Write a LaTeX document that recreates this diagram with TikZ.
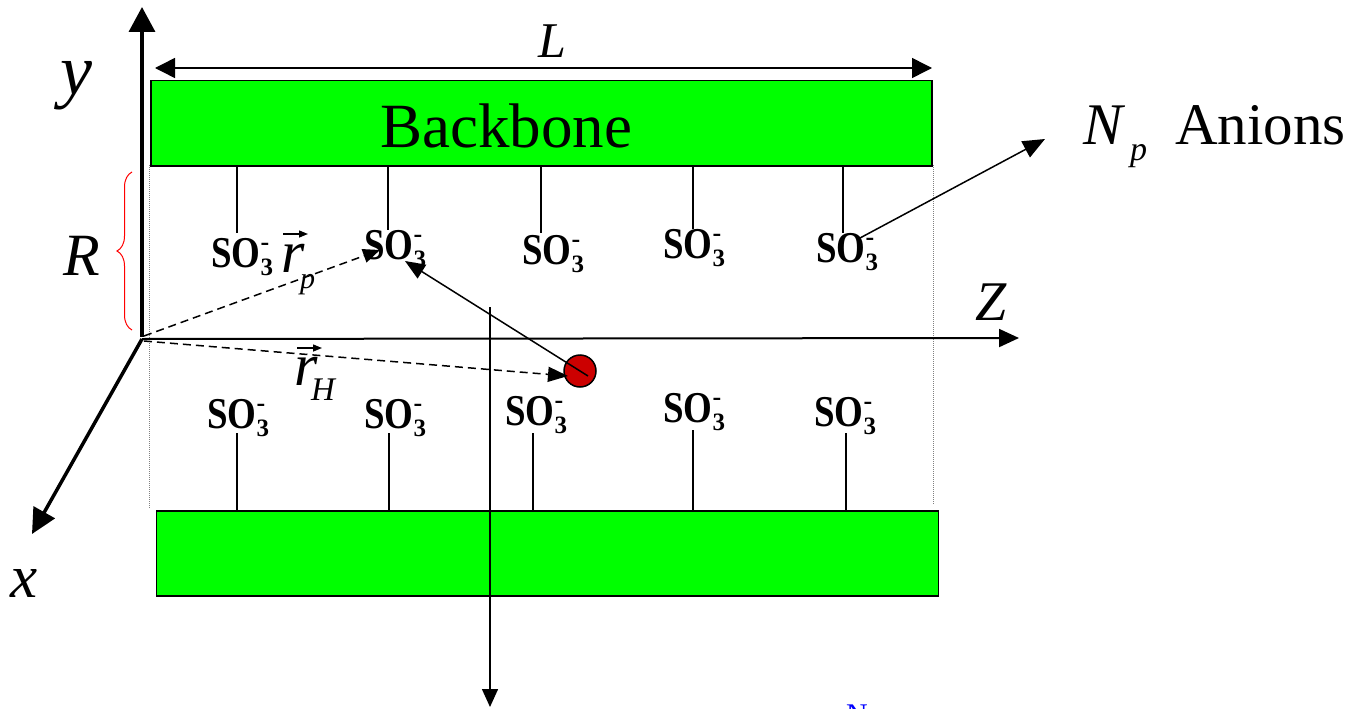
\documentclass[tikz,border=0pt]{standalone}
\usepackage{graphicx}
\usepackage{fontspec}
\setmainfont{Liberation Serif}
\usetikzlibrary{arrows.meta,decorations.pathreplacing,calc}
\definecolor{bbgreen}{HTML}{00FF00}
\definecolor{hred}{HTML}{CC0000}
\definecolor{nblue}{HTML}{0000FF}
\newcommand{\myfs}[1]{\fontsize{#1}{#1}\selectfont}
\newcommand{\sothree}{{\bfseries\scalebox{0.84}[1]{\myfs{44}\bfseries SO}\rlap{\raisebox{17pt}{\myfs{26}\bfseries -}}\raisebox{-8pt}{\myfs{25}\bfseries 3}}}
\begin{document}
\begin{tikzpicture}[x=1pt,y=-1pt,
  greenbox/.style={draw=black, line width=1.5pt, fill=bbgreen, inner sep=0pt, anchor=north west},
  lab/.style={inner sep=0pt, anchor=base west},
  so/.style={inner sep=0pt, anchor=base west},
  stem/.style={line width=1.2pt},
  axis/.style={line width=3.5pt},
  conn/.style={line width=1.5pt},
  dconn/.style={line width=1.5pt, dash pattern=on 8pt off 5pt},
  vecacc/.style={line width=1.4pt, -{Triangle[length=9pt,width=7pt]}},
  guide/.style={gray, line width=0.8pt, dash pattern=on 1pt off 1pt}]
\useasboundingbox (0,0) rectangle (1352,709);

% backbones
\node[greenbox, minimum width=781pt, minimum height=85pt] (top) at (150,80) {};
\node[greenbox, minimum width=782pt, minimum height=85pt] (bot) at (155.5,510) {};
\node[lab, font=\myfs{63}] (bb) at (380,147) {Backbone};

% guides
\draw[guide] (149,165) -- (149,508);
\draw[guide] (933,165) -- (933,505);

% length L
\coordinate (La) at (155,68);
\coordinate (Lb) at (932,68);
\draw[conn, {Triangle[length=20pt,width=20pt]}-{Triangle[length=20pt,width=20pt]}] (La) -- (Lb);
\node[lab, font=\myfs{50}\itshape] (L) at (538,58) {L};

% axes
\coordinate (O) at (142,339);
\coordinate (ytip) at (142,7);
\coordinate (xtip) at (32,534);
\coordinate (ztip) at (1019,338);
\draw[axis, -{Triangle[length=25pt,width=26pt]}] ([yshift=2pt]O) -- (ytip);
\draw[axis, -{Triangle[length=25pt,width=24pt]}] (O) -- (xtip);
\draw[line width=2pt, -{Triangle[length=20pt,width=18pt]}] (O) -- (ztip);
\node[lab, font=\myfs{72}\itshape] (ylab) at (60,94) {y};
\node[lab, font=\myfs{61}\itshape] (xlab) at (10,597) {x};
\node[lab, font=\myfs{56}\itshape] (zlab) at (975,320) {Z};

% R brace
\draw[red, line width=1pt, decorate, decoration={brace, amplitude=15pt}] (132,330) -- (132,172);
\node[lab, font=\myfs{60}\itshape] (R) at (63,275) {R};

% top SO3 groups
\node[so] (t1) at (211,267) {\sothree};
\node[so] (t2) at (364,259) {\sothree};
\node[so] (t3) at (522,264) {\sothree};
\node[so] (t4) at (663,258) {\sothree};
\node[so] (t5) at (816,262) {\sothree};
\coordinate (ts1) at (237,233);
\coordinate (ts2) at (388,230);
\coordinate (ts3) at (541,233);
\coordinate (ts4) at (693,229);
\coordinate (ts5) at (843,233);
\foreach \i in {1,...,5} {\draw[stem] (ts\i |- top.south) -- (ts\i);}

% bottom SO3 groups
\node[so] (b1) at (207,428) {\sothree};
\node[so] (b2) at (364,428) {\sothree};
\node[so] (b3) at (505,425) {\sothree};
\node[so] (b4) at (663,422) {\sothree};
\node[so] (b5) at (814,426) {\sothree};
\coordinate (bs1) at (237,433);
\coordinate (bs2) at (389,433);
\coordinate (bs3) at (533,433);
\coordinate (bs4) at (693,430);
\coordinate (bs5) at (846,433);
\foreach \i in {1,...,5} {\draw[stem] (bs\i) -- (bs\i |- bot.north);}

% vertical arrow
\coordinate (va) at (490,307);
\coordinate (vb) at (490,707);
\draw[conn, -{Triangle[length=18pt,width=16pt]}] (va) -- (vb);

% proton
\node[circle, draw=black, line width=1.5pt, fill=hred, minimum size=32pt, inner sep=0pt] (h) at (580,371) {};

% vectors
\draw[dconn, -{Triangle[length=17pt,width=14pt]}] ([shift={(2,-3)}]O) -- ([shift={(16,-9)}]t2.base west);
\draw[dconn, -{Triangle[length=20pt,width=15pt]}] ([shift={(2,2)}]O) -- ([shift={(-12,5)}]h.center);
\draw[conn, -{Triangle[length=20pt,width=16pt]}] ([shift={(8,5)}]h.center) -- ([shift={(41,2)}]t2.base west);

% r_p and r_H labels
\node[lab, font=\myfs{60}\itshape] (rp) at (281,272) {r};
\node[lab, font=\myfs{30}\itshape] (rps) at (300,288) {p};
\draw[vecacc] ([shift={(2,-38)}]rp.base west) -- ([shift={(27,-38)}]rp.base west);
\node[lab, font=\myfs{60}\itshape] (rh) at (294,385) {r};
\node[lab, font=\myfs{33}\itshape] (rhs) at (311,400) {H};
\draw[vecacc] ([shift={(3,-37)}]rh.base west) -- ([shift={(28,-37)}]rh.base west);

% Np anions
\coordinate (np) at (1045,139);
\draw[conn, -{Triangle[length=22pt,width=18pt]}] ([shift={(44,-24)}]t5.base west) -- (np);
\node[lab, font=\myfs{59}\itshape] (N) at (1083,144) {N};
\node[lab, font=\myfs{34}\itshape] (Np) at (1130,160) {p};
\node[lab, font=\myfs{59}] (an) at (1175,144) {Anions};

% clipped blue N at bottom
\node[lab, font=\myfs{30}, text=nblue] (bn) at (846,724) {N};
\end{tikzpicture}
\end{document}
